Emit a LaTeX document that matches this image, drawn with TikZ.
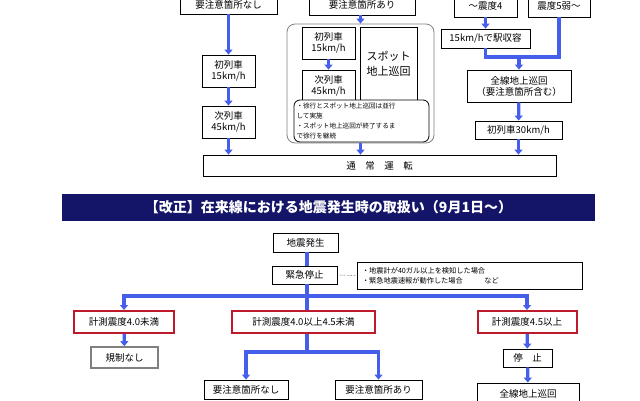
\documentclass[tikz,border=0pt]{standalone}
\usepackage{fontspec}
\setmainfont{Noto Sans CJK JP}
\usetikzlibrary{arrows.meta}
\definecolor{flowblue}{RGB}{70,95,235}
\definecolor{boxred}{RGB}{190,25,45}
\definecolor{navyband}{RGB}{20,20,105}

\begin{document}
\begin{tikzpicture}[x=1pt,y=-1pt,thick,
  box/.style={draw,fill=white,inner sep=0pt,font=\fontsize{9.5}{11}\selectfont,align=center},
  redbox/.style={box,draw=boxred,line width=2pt},
  flow/.style={draw=flowblue,line width=3.2pt,-{Triangle[length=5pt,width=8pt]}},
  trunk/.style={draw=flowblue,line width=3.2pt}]
\useasboundingbox (0,0) rectangle (640,400);
\clip (0,0) rectangle (640,400);
% upper part
\node[box,minimum width=97,minimum height=19] (plainA) at (228.5,4.5) {要注意箇所なし};
\node[box,minimum width=106,minimum height=20] (spotA) at (362,5) {要注意箇所あり};
\node[box,minimum width=63,minimum height=22] (lowA) at (485.5,6) {～震度4};
\node[box,minimum width=62,minimum height=22] (highA) at (559,6) {震度5弱～};
\node[box,minimum width=53,minimum height=32] (firstA) at (228.5,71) {初列車\\15km/h};
\node[box,minimum width=53,minimum height=32] (nextA) at (228.5,122) {次列車\\45km/h};
\node[box,rounded corners=8pt,draw=gray,minimum width=147,minimum height=119] (spotbox) at (360.5,83.5) {};
\node[box,minimum width=53,minimum height=32] (firstB) at (328.5,43) {初列車\\15km/h};
\node[box,minimum width=53,minimum height=31] (nextB) at (328.5,85.5) {次列車\\45km/h};
\node[box,minimum width=57,minimum height=73,font=\fontsize{11}{15}\selectfont] (patrol) at (388.5,63.5) {スポット\\地上巡回};
\node[box,rounded corners=6pt,minimum width=135,minimum height=42,text width=130,align=left,font=\fontsize{6.6}{10}\selectfont] (spotnote) at (361.5,121) {・徐行とスポット地上巡回は並行\\して実施\\・スポット地上巡回が終了するま\\で徐行を継続};
\node[box,minimum width=89,minimum height=19] (station) at (485.5,38.5) {15km/hで駅収容};
\node[box,minimum width=104,minimum height=32] (allA) at (519,86) {全線地上巡回\\（要注意箇所含む）};
\node[box,minimum width=87,minimum height=18] (firstC) at (518.5,130) {初列車30km/h};
\node[box,minimum width=353,minimum height=21] (normal) at (379.5,165.5) {通　常　運　転};
\draw[flow] (plainA) -- (firstA);
\draw[flow] (firstA) -- (nextA);
\draw[flow] (nextA) -- (nextA.south |- normal.north);
\draw[flow] (spotA.south -| spotbox.north) -- (spotbox.north);
\draw[flow] (spotbox.south) -- (spotbox.south |- normal.north);
\draw[flow,line width=2.4pt] (firstB) -- (nextB);
\draw[flow] (lowA) -- (station);
\coordinate (merge) at (519,57);
\draw[trunk] (station.south) |- (merge) -| (highA.south);
\draw[flow] (merge) -- (allA.north);
\draw[flow] (allA) -- (firstC);
\draw[flow] (firstC) -- (firstC.south |- normal.north);
% lower part
\fill[navyband] (62,194) rectangle (595,221);
\node[text=white,font=\fontsize{14}{16}\selectfont\bfseries] (title) at (328.5,207.5) {【改正】在来線における地震発生時の取扱い（9月1日～）};
\node[box,minimum width=65,minimum height=19] (quake) at (305.5,242.5) {地震発生};
\node[box,minimum width=65,minimum height=18] (stop) at (304.5,275) {緊急停止};
\node[box,minimum width=225,minimum height=27,text width=215,align=left,font=\fontsize{7.2}{10}\selectfont] (stopnote) at (469.5,275.5) {・地震計が40ガル以上を検知した場合\\・緊急地震速報が動作した場合　　　など};
\draw[densely dotted,thin] (stop.east) -- (stopnote.west);
\node[redbox,minimum width=100,minimum height=22] (lowR) at (124,322) {計測震度4.0未満};
\node[redbox,minimum width=143,minimum height=22] (midR) at (303.5,322) {計測震度4.0以上4.5未満};
\node[redbox,minimum width=99,minimum height=22] (highR) at (527,322) {計測震度4.5以上};
\coordinate (split) at (307,296);
\draw[trunk] (quake.south -| split) -- (stop.north -| split);
\draw[trunk] (stop.south -| split) -- (midR.north -| split);
\draw[flow] (split) -| (lowR.north);
\draw[flow] (split) -| (highR.north);
\node[box,draw=gray,line width=1.6pt,minimum width=67,minimum height=21] (noreg) at (124.5,357.5) {規制なし};
\draw[flow] (lowR) -- (noreg);
\coordinate (split2) at (307,352);
\node[box,minimum width=84,minimum height=19] (plainB) at (246,389.5) {要注意箇所なし};
\node[box,minimum width=87,minimum height=19] (spotC) at (378.5,389.5) {要注意箇所あり};
\draw[trunk] (midR.south -| split2) -- (split2);
\draw[flow] (split2) -| (plainB.north);
\draw[flow] (split2) -| (spotC.north);
\node[box,minimum width=49,minimum height=18] (halt) at (527.5,358) {停　止};
\node[box,minimum width=102,minimum height=22] (allB) at (528,394) {全線地上巡回};
\draw[flow] (highR) -- (halt);
\draw[flow] (halt) -- (allB);
\end{tikzpicture}
\end{document}
